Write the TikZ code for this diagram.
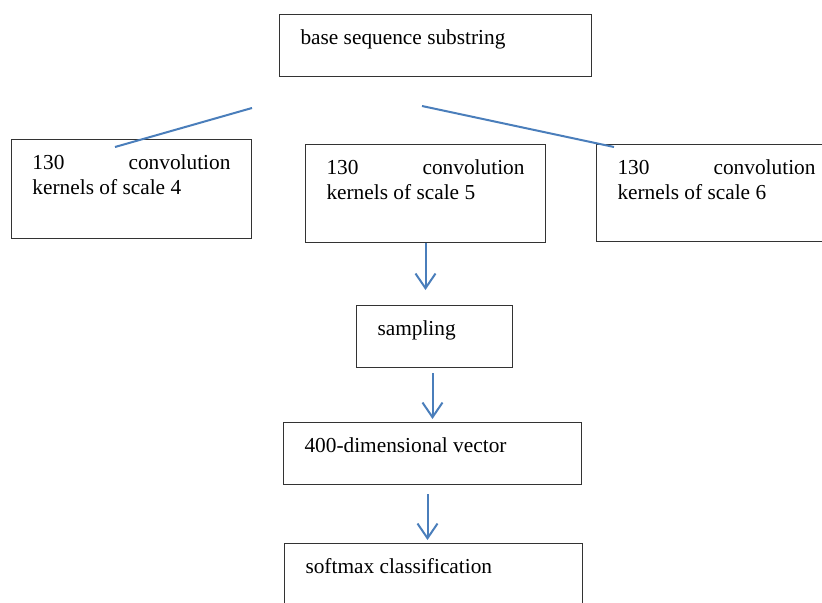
\documentclass[tikz,border=0pt]{standalone}
\usepackage{fontspec}
\setmainfont{Liberation Serif}
\usetikzlibrary{arrows.meta}

\tikzset{
  blk/.style={draw=black!80, line width=0.75pt, anchor=north west, inner xsep=15.75pt, inner ysep=0pt,
    text height=22.5pt, align=justify, font=\fontsize{16}{18.75}\selectfont},
  lnk/.style={draw={rgb, 255:red, 74; green, 126; blue, 187}, line width=1.5pt},
  arr/.style={lnk, -{Straight Barb[length=11pt,width=15pt]}}
}

\begin{document}
\begin{tikzpicture}[x=0.75pt,y=0.75pt,yscale=-1,xscale=1]
%set diagram left start at 0, and has height of 603
\useasboundingbox (0,0) rectangle (822,603);

%Shape: Rectangle [base]
\node [blk, text width=202.5pt, text depth=24pt] (base) at (279,14) {base sequence substring};
%Shape: Rectangle [scale 4]
\node [blk, text width=148.5pt, text depth=51.75pt] (k4) at (11,139) {130\hfill convolution\\kernels of scale 4};
%Shape: Rectangle [scale 5]
\node [blk, text width=148.5pt, text depth=51pt] (k5) at (305,144) {130\hfill convolution\\kernels of scale 5};
%Shape: Rectangle [scale 6]
\node [blk, text width=148.5pt, text depth=50.25pt] (k6) at (596,144) {130\hfill convolution\\kernels of scale 6};
%Shape: Rectangle [sampling]
\node [blk, text width=85.5pt, text depth=24pt] (samp) at (356,305) {sampling};
%Shape: Rectangle [vector]
\node [blk, text width=192pt, text depth=24pt] (vec) at (283,422) {400-dimensional vector};
%Shape: Rectangle [softmax]
\node [blk, text width=192pt, text depth=40pt] (soft) at (284,543) {softmax classification};

%Straight Lines [left branch]
\coordinate (l4a) at (252,108);
\coordinate (l4b) at (115,147);
\draw [lnk] (l4a) -- (l4b);
%Straight Lines [right branch]
\coordinate (l6a) at (422,106);
\coordinate (l6b) at (614,147);
\draw [lnk] (l6a) -- (l6b);

%Arrows
\draw [arr, shorten >=11.25pt] (k5.south) -- (k5.south |- samp.north);
\draw [arr, shorten <=3.75pt, shorten >=2.25pt] ([xshift=-1.5pt]samp.south) -- ([xshift=-1.5pt]samp.south |- vec.north);
\draw [arr, shorten <=6.75pt, shorten >=2.25pt] ([xshift=-3.75pt]vec.south) -- ([xshift=-3.75pt]vec.south |- soft.north);
\end{tikzpicture}
\end{document}
